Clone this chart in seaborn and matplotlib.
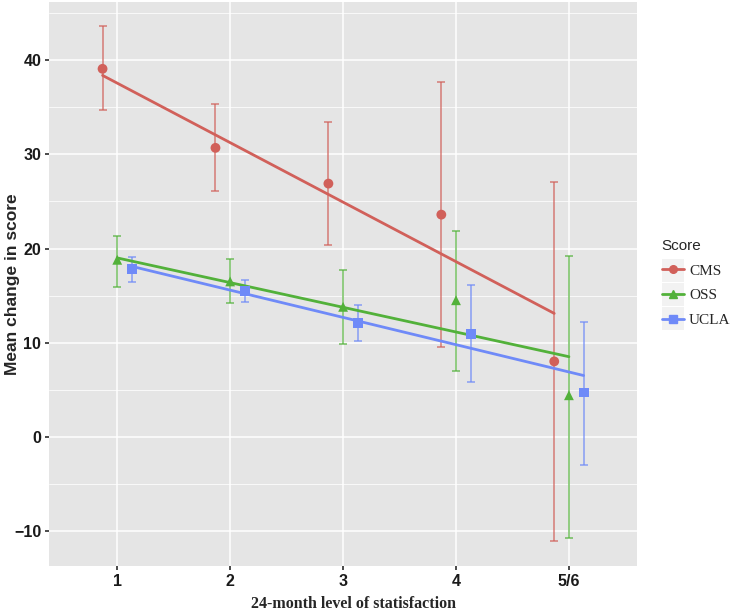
import numpy as np
import pandas as pd
import matplotlib
matplotlib.use("Agg")
import matplotlib.pyplot as plt
import seaborn as sns
from matplotlib.lines import Line2D
from matplotlib.patches import Rectangle

# values
levels = ["1", "2", "3", "4", "5/6"]
scores = ["CMS", "OSS", "UCLA"]

cms_mean = [39.1, 30.7, 26.9, 23.6, 8.0]
cms_hi = [43.6, 35.4, 33.4, 37.7, 27.1]
cms_lo = [34.7, 26.1, 20.4, 9.5, -11.1]

oss_mean = [18.8, 16.5, 13.8, 14.5, 4.4]
oss_hi = [21.3, 18.9, 17.7, 21.9, 19.2]
oss_lo = [15.9, 14.2, 9.9, 7.0, -10.8]

ucla_mean = [17.8, 15.5, 12.1, 10.9, 4.7]
ucla_hi = [19.1, 16.7, 14.0, 16.1, 12.2]
ucla_lo = [16.4, 14.3, 10.2, 5.8, -3.0]

# fitted line values at first and last level
fit_start = [38.4, 19.0, 18.1]
fit_end = [13.1, 8.5, 6.5]

colors = {"CMS": "#D1605A", "OSS": "#52B13A", "UCLA": "#6F8AF8"}
markers = {"CMS": "o", "OSS": "^", "UCLA": "s"}
dodge = {"CMS": -0.13, "OSS": 0.0, "UCLA": 0.13}

rows = []
for s, m, hi, lo in zip(scores, [cms_mean, oss_mean, ucla_mean],
                        [cms_hi, oss_hi, ucla_hi], [cms_lo, oss_lo, ucla_lo]):
    for i, lev in enumerate(levels):
        rows.append({"score": s, "level": lev, "x": i + 1 + dodge[s],
                     "mean": m[i], "hi": hi[i], "lo": lo[i]})
df = pd.DataFrame(rows)

fit = pd.DataFrame({
    "score": [s for s in scores for _ in range(2)],
    "x": [v + dodge[s] for s in scores for v in (1, len(levels))],
    "y": [v for a, b in zip(fit_start, fit_end) for v in (a, b)],
})

sns.set_theme(style="darkgrid")
plt.rcParams["font.family"] = ["Liberation Sans", "DejaVu Sans"]

W, H = 733, 611
fig = plt.figure(figsize=(W / 100, H / 100), dpi=100)
ax = fig.add_axes([0.0675, 0.0736, 0.8011, 0.9231])
ax.set_facecolor("#E5E5E5")

for s in scores:
    d = df[df["score"] == s]
    ax.errorbar(d["x"], d["mean"],
                yerr=[d["mean"] - d["lo"], d["hi"] - d["mean"]],
                fmt="none", ecolor=colors[s], elinewidth=1.1, capsize=2.7,
                capthick=1.1, alpha=0.8, zorder=2)

sns.lineplot(data=fit, x="x", y="y", hue="score", palette=colors,
             linewidth=2, legend=False, ax=ax, zorder=3)
sns.scatterplot(data=df, x="x", y="mean", hue="score", style="score",
                palette=colors, markers=markers, s=50, edgecolor="none",
                legend=False, ax=ax, zorder=4)

ax.set_xlim(0.4, 5.6)
ax.set_ylim(-13.75, 46.2)
ax.set_xticks(range(1, len(levels) + 1))
ax.set_xticklabels(levels)
ax.set_yticks([-10, 0, 10, 20, 30, 40])
ax.set_yticks([-5, 5, 15, 25, 35, 45], minor=True)
ax.grid(which="major", color="white", linewidth=1.1)
ax.grid(which="minor", color="white", linewidth=0.55)
ax.tick_params(axis="both", which="major", length=3, color="#333333",
               labelsize=11.5, pad=3, bottom=True, left=True)
ax.tick_params(which="minor", length=0)
for lab in ax.get_xticklabels() + ax.get_yticklabels():
    lab.set_fontweight("bold")
    lab.set_color("#1a1a1a")
for sp in ax.spines.values():
    sp.set_visible(False)

ax.set_ylabel("Mean change in score", fontsize=12.5, fontweight="bold")
ax.yaxis.set_label_coords(-0.051, 0.5)
ax.set_xlabel("24-month level of statisfaction", fontsize=11.5,
              fontweight="bold", family=["Liberation Serif"])
ax.xaxis.set_label_coords(0.517, -0.054)

# grey key boxes behind the legend handles
for k in range(3):
    fig.patches.append(Rectangle((661.5 / W, 1 - (258 + 24 * (k + 1)) / H),
                                 22 / W, 23 / H, transform=fig.transFigure,
                                 facecolor="#F2F2F2", edgecolor="none",
                                 zorder=0))

handles = [Line2D([], [], color=colors[s], marker=markers[s], markersize=5.5,
                  linewidth=2) for s in scores]
leg = fig.legend(handles, scores, title="Score", loc="upper left",
                 bbox_to_anchor=(661.5 / W, 1 - 239 / H), frameon=False,
                 borderpad=0, borderaxespad=0,
                 handlelength=1.5, handletextpad=0.3, labelspacing=0.72,
                 prop={"family": "Liberation Serif", "size": 11})
leg.get_title().set_fontsize(11)
leg.get_title().set_family("Liberation Sans")
leg._legend_box.align = "left"

fig.savefig("out.png", dpi=100)
